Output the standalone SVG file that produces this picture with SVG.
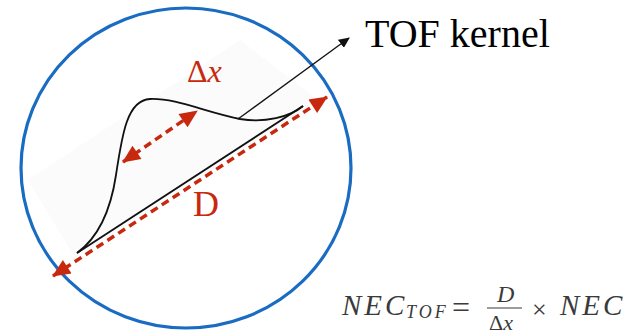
<svg xmlns="http://www.w3.org/2000/svg" width="627" height="336" viewBox="0 0 627 336">
  <style>
    .red { stroke: #C8290E; stroke-width: 3.5; stroke-dasharray: 8 5; fill: none; }
    .blk { stroke: #111; fill: none; }
    text { font-family: 'Liberation Serif', 'DejaVu Serif', 'Times New Roman', Times, serif; font-weight: 400; }
    .it { font-style: italic; }
  </style>
  <defs>
    <marker id="redHead" markerUnits="userSpaceOnUse" markerWidth="20" markerHeight="16" viewBox="0 0 18 16" refX="17" refY="8" orient="auto-start-reverse">
      <path d="M0,0 L18,8 L0,16 z" fill="#C8290E"/>
    </marker>
    <marker id="blkHead" markerUnits="userSpaceOnUse" markerWidth="11" markerHeight="10" viewBox="0 0 11 10" refX="10" refY="5" orient="auto">
      <path d="M0,0 L11,5 L0,10 z" fill="#111"/>
    </marker>
  </defs>
  <rect width="627" height="336" fill="#fff"/>

  <g id="background">
    <polygon points="28,180 240,40 318,100 75,258" fill="#fbfbfb"/>
  </g>

  <g id="circle">
    <ellipse cx="186" cy="168" rx="165" ry="160" fill="none" stroke="#1A6CC2" stroke-width="3.2"/>
  </g>

  <g id="kernel">
    <path class="blk" stroke-width="1.8" d="M77,253 C95,240 110,215 116,175 C122,135 127,100 150,99 C176,98 205,112 240,119 C265,123 290,117 303,106"/>
    <path class="blk" stroke-width="1.8" d="M77,253 L303,106"/>
  </g>

  <g id="connectors">
    <line class="red" x1="53" y1="276" x2="327" y2="97" marker-start="url(#redHead)" marker-end="url(#redHead)"/>
    <line class="red" x1="123" y1="162" x2="197" y2="111" marker-start="url(#redHead)" marker-end="url(#redHead)"/>
    <line class="blk" stroke-width="1.3" x1="238" y1="119" x2="349" y2="38" marker-end="url(#blkHead)"/>
  </g>

  <g id="labels">
    <text x="365" y="47" font-size="40" fill="#000">TOF kernel</text>
    <text x="187" y="82" font-size="32" fill="#C8290E">Δ<tspan class="it">x</tspan></text>
    <text x="193" y="216" font-size="36" fill="#C8290E">D</text>
  </g>

  <g id="formula" fill="#3a3a3a">
    <text class="it" x="342" y="315" font-size="29" letter-spacing="3">NEC</text>
    <text class="it" x="406" y="318" font-size="18" letter-spacing="3">TOF</text>
    <text x="452" y="318" font-size="32">=</text>
    <text class="it" x="497" y="302" font-size="24">D</text>
    <line x1="487" y1="308" x2="522" y2="308" stroke="#3a3a3a" stroke-width="1.2"/>
    <text x="489" y="330" font-size="22">Δ<tspan class="it">x</tspan></text>
    <text x="532" y="318" font-size="26">×</text>
    <text class="it" x="560" y="315" font-size="29" letter-spacing="3">NEC</text>
  </g>
</svg>
